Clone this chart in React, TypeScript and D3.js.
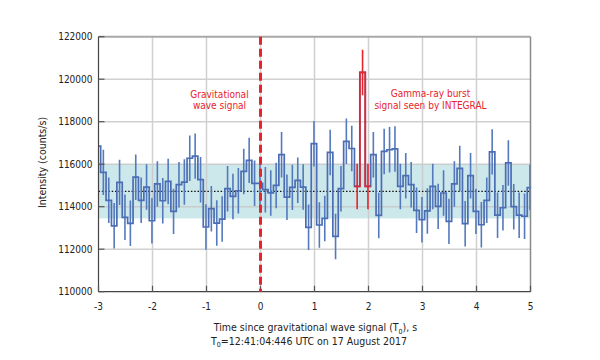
import { useEffect, useRef } from "react";
import * as d3 from "d3";

// Axis ticks
const xTicks = [-3, -2, -1, 0, 1, 2, 3, 4, 5];
const yTicks = [110000, 112000, 114000, 116000, 118000, 120000, 122000];

// SPI-ACS light curve, 100 ms bins (first bin is partly left of -3 s)
const binStart0 = -3.06;
const binWidth = 0.1;
const rates = [
	116850, 115615, 114300, 113100, 115145, 113500, 113220, 115390, 114300, 114925,
	113340, 115070, 114280, 115190, 113780, 115035, 115160, 116280, 116380, 115270,
	113045, 113905, 113230, 113420, 114850, 114485, 114750, 115660, 116180, 115100,
	115100, 114800, 114650, 115000, 116450, 114450, 114910, 115240, 114925, 113030,
	116965, 113140, 113450, 116555, 112600, 114850, 117075, 116740, 114955, 120320,
	114955, 116450, 113590, 116600, 116680, 116720, 114955, 115460, 115035, 113830,
	113390, 113800, 114955, 114015, 114645, 113310, 115070, 115800, 113200, 115460,
	113780, 113150, 114300, 116580, 113600, 113950, 116060, 114000, 113600, 113550,
	114900,
];
const rateErr = 1070;
const burstBins = [48, 49, 50]; // indices into rates, drawn in red

// Background level and its band
const meanRate = 114720;
const bandLow = 113450;
const bandHigh = 116000;

const FONT = "'DejaVu Sans Condensed', 'DejaVu Sans', sans-serif";
const BLUE = "#4a6db4";
const RED = "#e8232b";

export default function App() {
	const ref = useRef<SVGSVGElement>(null);

	useEffect(() => {
		const svg = d3.select(ref.current);
		svg.selectAll("*").remove();

		const x = d3.scaleLinear().domain([-3, 5]).range([98.5, 530.5]);
		const y = d3.scaleLinear().domain([110000, 122000]).range([291.7, 36.7]);
		const [x0, x1] = x.range();
		const [yb, yt] = y.range();

		svg.append("defs")
			.append("clipPath")
			.attr("id", "plot-clip")
			.append("rect")
			.attr("x", x0)
			.attr("y", yt - 10)
			.attr("width", x1 - x0)
			.attr("height", yb - yt + 20);

		// Background band
		svg.append("rect")
			.attr("x", x0)
			.attr("y", y(bandHigh))
			.attr("width", x1 - x0)
			.attr("height", y(bandLow) - y(bandHigh))
			.attr("fill", "#cde8eb");

		// Grid
		const grid = svg.append("g").attr("stroke", "#c8c8c8").attr("stroke-width", 1.5).attr("opacity", 0.85);
		grid.selectAll(".gx")
			.data(xTicks.slice(1, -1))
			.enter()
			.append("line")
			.attr("x1", d => x(d))
			.attr("x2", d => x(d))
			.attr("y1", yt)
			.attr("y2", yb);
		grid.selectAll(".gy")
			.data(yTicks.slice(1, -1))
			.enter()
			.append("line")
			.attr("x1", x0)
			.attr("x2", x1)
			.attr("y1", d => y(d))
			.attr("y2", d => y(d));

		// Frame: top and right lighter
		svg.append("line")
			.attr("x1", x0).attr("x2", x1).attr("y1", yt).attr("y2", yt)
			.attr("stroke", "#a8a8a8").attr("stroke-width", 2);
		svg.append("line")
			.attr("x1", x1).attr("x2", x1).attr("y1", yt).attr("y2", yb)
			.attr("stroke", "#8a8a8a").attr("stroke-width", 1.5);

		// Mean level
		svg.append("line")
			.attr("x1", x0).attr("x2", x1)
			.attr("y1", y(meanRate)).attr("y2", y(meanRate))
			.attr("stroke", "#111")
			.attr("stroke-width", 1.3)
			.attr("stroke-dasharray", "1.5,1.8");

		const plot = svg.append("g").attr("clip-path", "url(#plot-clip)");

		const pts: [number, number][] = rates.map((v, i) => [binStart0 + i * binWidth, v]);
		pts.push([binStart0 + rates.length * binWidth, rates[rates.length - 1]]);

		const step = d3.line<[number, number]>()
			.x(d => x(d[0]))
			.y(d => y(d[1]))
			.curve(d3.curveStepAfter);

		// Error bars
		plot.selectAll(".err")
			.data(rates.map((v, i) => ({ t: binStart0 + (i + 0.5) * binWidth, v, i })))
			.enter()
			.append("line")
			.attr("x1", d => x(d.t))
			.attr("x2", d => x(d.t))
			.attr("y1", d => y(d.v - rateErr))
			.attr("y2", d => y(d.v + rateErr))
			.attr("stroke", d => (burstBins.includes(d.i) ? RED : "#5479bd"))
			.attr("stroke-width", 1.6);

		plot.append("path")
			.attr("d", step(pts))
			.attr("fill", "none")
			.attr("stroke", BLUE)
			.attr("stroke-width", 1.7);

		// Burst bins in red
		const bLast = burstBins[burstBins.length - 1];
		const redPts: [number, number][] = burstBins.map(i => [binStart0 + i * binWidth, rates[i]]);
		redPts.push([binStart0 + (bLast + 1) * binWidth, rates[bLast]]);
		plot.append("path")
			.attr("d", step(redPts))
			.attr("fill", "none")
			.attr("stroke", RED)
			.attr("stroke-width", 1.8);

		// Axes (left and bottom)
		svg.append("line")
			.attr("x1", x0).attr("x2", x0).attr("y1", yt).attr("y2", yb)
			.attr("stroke", "#444").attr("stroke-width", 1.2);
		svg.append("line")
			.attr("x1", x0).attr("x2", x1).attr("y1", yb).attr("y2", yb)
			.attr("stroke", "#444").attr("stroke-width", 1.2);

		svg.selectAll(".ty")
			.data(yTicks)
			.enter()
			.append("line")
			.attr("x1", x0).attr("x2", x0 + 6)
			.attr("y1", d => y(d)).attr("y2", d => y(d))
			.attr("stroke", "#555").attr("stroke-width", 1.2);
		svg.selectAll(".tx")
			.data(xTicks)
			.enter()
			.append("line")
			.attr("x1", d => x(d)).attr("x2", d => x(d))
			.attr("y1", yb).attr("y2", yb - 6)
			.attr("stroke", "#555").attr("stroke-width", 1.2);

		// GW trigger line
		svg.append("line")
			.attr("x1", x(0)).attr("x2", x(0))
			.attr("y1", yt).attr("y2", yb)
			.attr("stroke", RED)
			.attr("stroke-width", 3)
			.attr("stroke-dasharray", "8,4");

		// Tick labels
		svg.selectAll(".ly")
			.data(yTicks)
			.enter()
			.append("text")
			.attr("x", 92.5)
			.attr("y", d => y(d) + 3.6)
			.attr("text-anchor", "end")
			.attr("font-family", FONT)
			.attr("font-stretch", "condensed")
			.attr("font-size", "10px")
			.attr("fill", "#222")
			.text(d => d);
		svg.selectAll(".lx")
			.data(xTicks)
			.enter()
			.append("text")
			.attr("x", d => x(d))
			.attr("y", 309.5)
			.attr("text-anchor", "middle")
			.attr("font-family", FONT)
			.attr("font-stretch", "condensed")
			.attr("font-size", "10px")
			.attr("fill", "#222")
			.text(d => d);

		// Axis titles
		svg.append("text")
			.attr("transform", "translate(46,162.5) rotate(-90)")
			.attr("text-anchor", "middle")
			.attr("font-family", FONT)
			.attr("font-stretch", "condensed")
			.attr("font-size", "10.5px")
			.attr("fill", "#222")
			.text("Intensity (counts/s)");

		const xl = svg.append("text")
			.attr("x", 315.5)
			.attr("y", 331)
			.attr("text-anchor", "middle")
			.attr("font-family", FONT)
			.attr("font-stretch", "condensed")
			.attr("font-size", "10.5px")
			.attr("fill", "#222");
		xl.append("tspan").text("Time since gravitational wave signal (T");
		xl.append("tspan").attr("dy", 2.5).attr("font-size", "7px").text("0");
		xl.append("tspan").attr("dy", -2.5).text("), s");

		const xl2 = svg.append("text")
			.attr("x", 309)
			.attr("y", 344.5)
			.attr("text-anchor", "middle")
			.attr("font-family", FONT)
			.attr("font-stretch", "condensed")
			.attr("font-size", "10.5px")
			.attr("fill", "#222");
		xl2.append("tspan").text("T");
		xl2.append("tspan").attr("dy", 2.5).attr("font-size", "7px").text("0");
		xl2.append("tspan").attr("dy", -2.5).text("=12:41:04:446 UTC on 17 August 2017");

		// Annotations
		const note = (cx: number, lines: string[], base: number) => {
			lines.forEach((s, i) => {
				svg.append("text")
					.attr("x", cx)
					.attr("y", base + i * 11.8)
					.attr("text-anchor", "middle")
					.attr("font-family", FONT)
					.attr("font-stretch", "condensed")
					.attr("font-size", "10px")
					.attr("fill", RED)
					.text(s);
			});
		};
		note(219.5, ["Gravitational", "wave signal"], 97.5);
		note(430.5, ["Gamma-ray burst", "signal seen by INTEGRAL"], 97);
	}, []);

	return (
		<svg
			ref={ref}
			width={600}
			height={360}
			style={{ position: "absolute", left: 0, top: 0, background: "#fff" }}
		/>
	);
}
